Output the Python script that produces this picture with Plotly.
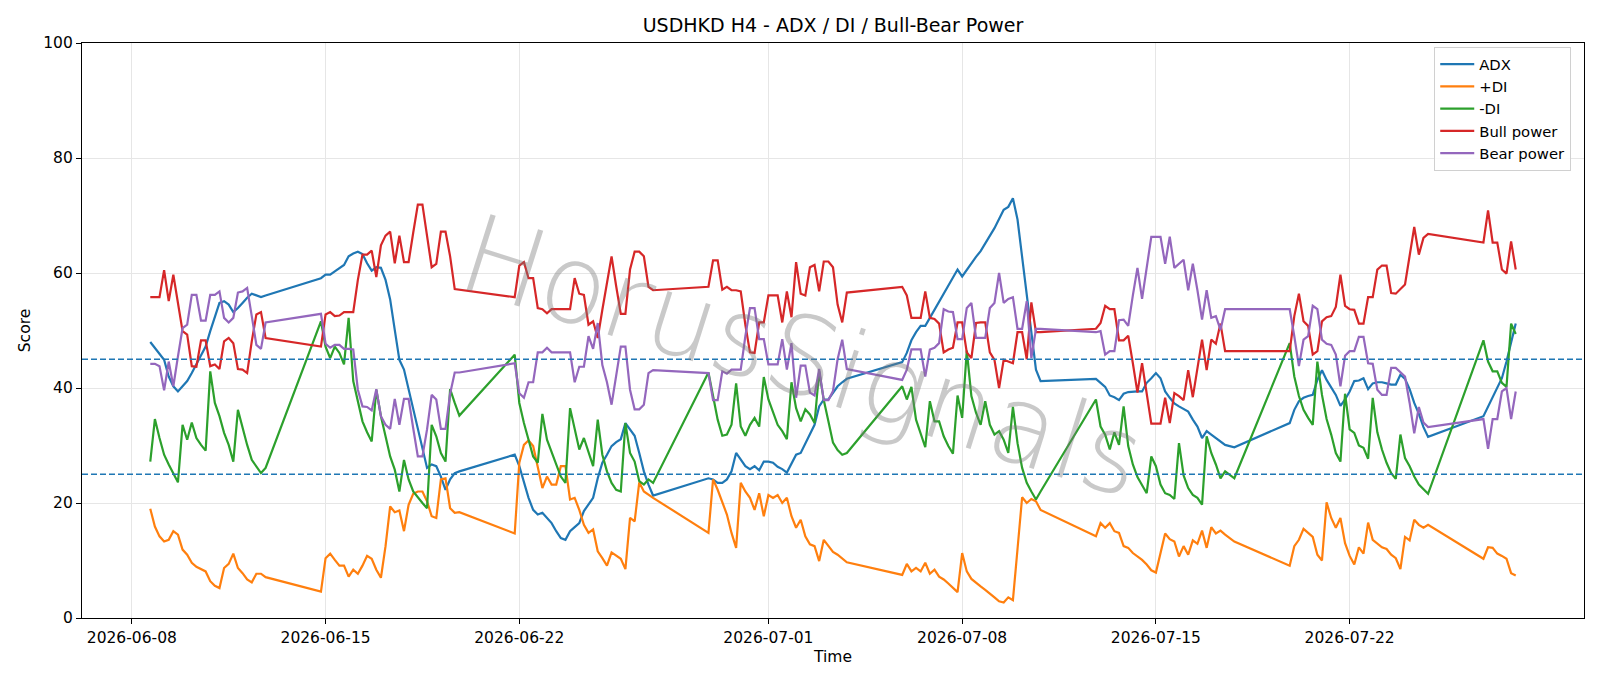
import pandas as pd
import plotly.graph_objects as go

# ---- time axis: 4-hour bars, grouped by trading week (weekend gaps) ----
session_starts = ["2026-06-08 16:00", "2026-06-14 20:00", "2026-06-21 20:00", "2026-06-28 20:00",
                  "2026-07-05 20:00", "2026-07-12 20:00", "2026-07-19 20:00", "2026-07-26 20:00"]
session_bars = [26, 31, 31, 31, 31, 31, 31, 8]

tick_dates = ["2026-06-08", "2026-06-15", "2026-06-22", "2026-07-01",
              "2026-07-08", "2026-07-15", "2026-07-22"]
y_ticks = [0, 20, 40, 60, 80, 100]
levels = [25, 45]

adx = [
    48.0, 47.0, 46.0, 44.9, 42.0, 40.3, 39.4, 40.3, 41.2, 42.6, 44.1, 45.5, 47.2, 49.9, 52.5, 54.8, 55.1, 54.5, 53.2, 53.9, 54.8, 55.7, 56.4, 56.1, 55.8, 56.1,
    59.1, 59.7, 59.7, 60.3, 60.9, 61.4, 62.9, 63.4, 63.7, 63.3, 61.7, 60.4, 61.0, 60.9, 58.8, 55.4, 50.1, 44.9, 43.2, 39.7, 36.2, 32.8, 29.3, 26.1, 26.7, 26.4, 24.6, 22.3, 24.1, 25.2, 25.5,
    28.4, 26.4, 23.8, 20.9, 18.8, 18.0, 18.3, 17.4, 16.5, 15.1, 13.9, 13.6, 15.1, 15.8, 16.5, 18.6, 19.7, 20.9, 24.3, 27.0, 28.4, 29.9, 30.6, 31.1, 33.9, 32.8, 31.7, 28.7, 25.5, 23.2, 21.3,
    24.3, 24.1, 23.5, 23.5, 24.1, 25.5, 28.7, 27.5, 26.4, 25.9, 26.4, 25.7, 27.2, 27.2, 27.0, 26.3, 25.9, 25.3, 27.0, 28.4, 28.7, 30.4, 31.9, 33.6, 36.8, 38.0, 38.0, 39.2, 40.3, 41.0, 41.6,
    44.5, 46.1, 48.3, 49.7, 50.8, 50.8, 52.2, 53.6, 55.1, 56.5, 58.0, 59.4, 60.6, 59.4, 60.6, 61.7, 62.8, 63.8, 65.1, 66.5, 67.8, 69.4, 71.0, 71.5, 73.0, 69.3, 62.9, 56.2, 49.6, 43.2, 41.2,
    41.6, 40.9, 40.2, 38.7, 38.4, 37.9, 39.0, 39.3, 39.4, 39.4, 39.4, 40.9, 41.7, 42.6, 41.7, 39.4, 38.3, 37.3, 36.8, 36.3, 35.9, 34.5, 33.3, 31.3, 32.5, 31.9, 31.3, 30.6, 30.1, 29.9, 29.7,
    33.9, 36.2, 37.7, 38.3, 38.6, 38.8, 41.4, 43.1, 41.4, 40.2, 38.8, 36.9, 38.0, 39.4, 41.2, 41.3, 41.7, 39.8, 40.8, 41.0, 41.0, 40.8, 40.6, 40.6, 42.3, 41.6, 39.8, 37.4, 35.5, 33.2, 31.5,
    35.1, 36.7, 38.4, 40.0, 41.7, 44.6, 48.1, 51.2,
]

plus_di = [
    19.0, 15.9, 14.2, 13.3, 13.6, 15.1, 14.5, 11.9, 11.0, 9.6, 8.9, 8.5, 8.1, 6.4, 5.6, 5.2, 8.7, 9.4, 11.2, 8.7, 7.8, 6.7, 6.2, 7.7, 7.7, 7.1,
    4.6, 10.4, 11.2, 10.1, 9.1, 9.1, 7.2, 8.4, 7.7, 9.1, 10.8, 10.3, 8.4, 7.0, 12.5, 19.4, 18.4, 18.7, 15.1, 19.7, 21.6, 22.0, 22.0, 20.3, 17.7, 17.4, 24.1, 24.3, 19.1, 18.3, 18.4,
    14.7, 27.0, 30.1, 30.9, 29.9, 26.1, 22.6, 24.6, 23.2, 23.2, 26.4, 26.4, 20.6, 20.9, 18.8, 16.2, 14.8, 15.4, 11.6, 10.4, 9.1, 11.4, 10.8, 10.3, 8.5, 17.4, 16.8, 23.6, 22.0, 21.4, 20.9,
    14.8, 24.1, 22.3, 20.3, 18.0, 14.8, 12.2, 23.5, 22.0, 20.9, 18.8, 21.7, 17.7, 21.4, 20.9, 21.4, 20.0, 20.9, 17.7, 15.7, 17.1, 14.2, 12.8, 12.5, 9.9, 13.6, 12.5, 11.5, 11.0, 10.4, 9.7,
    7.5, 9.4, 8.1, 8.7, 8.1, 9.6, 7.7, 8.4, 7.2, 6.7, 6.0, 5.2, 4.5, 11.3, 8.1, 6.8, 6.1, 5.5, 4.9, 4.3, 3.6, 2.9, 2.7, 3.6, 3.1, 12.0, 21.0, 20.0, 20.7, 20.3, 18.8,
    14.2, 16.5, 15.7, 16.5, 15.1, 14.8, 12.5, 12.2, 11.3, 10.7, 10.1, 9.3, 8.3, 7.9, 11.2, 14.7, 13.7, 13.3, 10.7, 12.5, 11.0, 13.5, 12.9, 15.2, 12.2, 15.8, 14.7, 15.2, 14.5, 13.9, 13.3,
    9.1, 12.5, 13.6, 15.5, 14.8, 14.1, 11.0, 10.0, 20.1, 17.4, 15.7, 17.4, 13.0, 10.8, 9.3, 12.3, 11.2, 16.6, 13.6, 12.9, 12.3, 12.0, 11.0, 10.4, 8.5, 14.1, 13.5, 17.1, 16.2, 15.7, 16.2,
    10.3, 12.3, 12.2, 11.2, 10.8, 10.3, 7.8, 7.4,
]

minus_di = [
    27.2, 34.6, 31.3, 28.4, 26.7, 25.2, 23.6, 33.6, 31.0, 34.0, 31.3, 30.1, 29.1, 42.9, 37.4, 35.1, 32.2, 30.1, 27.2, 36.2, 33.0, 30.1, 27.5, 26.4, 25.2, 26.1,
    51.6, 47.2, 45.2, 47.2, 46.1, 44.1, 52.2, 41.2, 37.4, 34.2, 32.3, 30.7, 39.7, 35.1, 31.6, 28.1, 25.8, 22.0, 27.5, 24.1, 22.0, 20.9, 20.0, 19.1, 33.6, 31.6, 28.7, 27.2, 39.8, 37.4, 35.2,
    45.8, 37.4, 33.9, 31.0, 28.1, 27.0, 35.5, 31.0, 28.7, 26.7, 24.6, 23.5, 36.5, 32.8, 29.3, 31.3, 28.7, 26.4, 34.5, 28.4, 25.5, 23.5, 22.3, 22.0, 33.9, 28.7, 27.2, 23.8, 23.2, 24.1, 23.5,
    42.7, 38.6, 34.5, 31.7, 31.9, 33.6, 40.8, 33.3, 31.7, 33.6, 34.8, 33.3, 41.9, 38.0, 35.7, 33.6, 32.5, 31.1, 41.0, 36.5, 34.2, 36.3, 35.4, 33.9, 42.9, 37.9, 34.2, 30.5, 29.2, 28.4, 28.7,
    40.3, 38.0, 40.2, 34.5, 32.2, 29.7, 37.7, 34.2, 34.2, 31.6, 29.9, 28.6, 38.7, 34.8, 46.5, 38.6, 35.7, 33.6, 37.7, 33.6, 31.9, 32.5, 31.0, 28.7, 36.7, 30.4, 26.1, 23.5, 22.0, 20.6, 22.0,
    38.0, 33.3, 31.9, 29.3, 32.3, 30.1, 36.8, 29.9, 26.7, 24.5, 23.2, 21.7, 28.1, 26.4, 23.2, 21.7, 21.4, 20.7, 30.4, 24.8, 22.6, 21.4, 20.9, 19.7, 31.6, 28.7, 26.7, 24.3, 25.5, 24.9, 24.3,
    47.8, 42.0, 38.6, 36.2, 34.8, 33.6, 44.6, 38.8, 34.6, 31.9, 28.7, 27.2, 39.0, 32.8, 32.2, 30.0, 29.6, 27.7, 38.3, 32.3, 29.3, 27.0, 25.2, 24.2, 31.9, 27.8, 26.4, 24.6, 23.2, 22.4, 21.6,
    48.3, 44.6, 42.9, 42.9, 40.9, 40.2, 51.2, 49.4,
]

bull_power = [
    55.8, 55.8, 55.8, 60.5, 55.1, 59.7, 54.8, 49.9, 49.3, 43.8, 43.7, 48.3, 48.3, 43.8, 44.1, 43.3, 48.1, 48.7, 47.8, 43.3, 43.2, 42.6, 48.1, 52.8, 53.2, 48.7,
    47.2, 52.8, 53.2, 52.5, 52.6, 53.2, 53.2, 53.2, 58.8, 63.2, 63.2, 63.9, 59.3, 64.8, 66.5, 67.2, 61.7, 66.5, 61.9, 61.9, 67.0, 71.9, 71.9, 66.4, 61.0, 61.6, 67.2, 67.2, 62.9, 57.2, 57.1,
    55.8, 61.3, 61.9, 59.1, 59.1, 53.9, 53.7, 53.0, 53.7, 53.7, 53.7, 53.7, 53.7, 59.1, 56.4, 56.2, 51.0, 51.6, 48.7, 53.6, 58.3, 62.9, 57.7, 52.9, 52.9, 60.6, 63.7, 63.7, 62.9, 57.6, 57.0,
    57.6, 62.2, 62.2, 57.1, 57.6, 57.0, 57.0, 56.8, 51.0, 46.2, 46.1, 51.4, 51.4, 56.1, 56.1, 56.1, 51.4, 56.8, 52.3, 61.9, 56.4, 56.1, 61.0, 61.4, 56.8, 62.0, 62.0, 61.0, 54.5, 51.4, 56.6,
    57.6, 56.1, 52.2, 52.2, 52.2, 56.8, 52.2, 52.0, 51.2, 46.2, 46.7, 47.0, 51.4, 51.4, 46.2, 45.2, 51.3, 51.4, 51.4, 46.2, 44.9, 40.0, 44.9, 44.6, 44.3, 49.7, 49.7, 45.0, 54.9, 49.7, 49.7,
    50.3, 51.3, 54.3, 53.7, 53.7, 48.3, 48.3, 49.1, 44.3, 39.2, 44.3, 39.1, 33.8, 33.8, 33.8, 38.3, 33.9, 39.1, 38.6, 37.9, 43.1, 38.4, 43.2, 48.4, 43.1, 48.4, 47.7, 51.2, 46.4, 46.4, 46.4,
    46.4, 52.5, 56.4, 51.6, 50.8, 45.8, 46.4, 51.6, 52.3, 52.5, 54.1, 59.7, 54.3, 53.7, 53.6, 51.2, 51.2, 55.8, 55.8, 60.6, 61.3, 61.3, 56.5, 56.4, 57.2, 58.0, 63.0, 68.0, 63.2, 66.1, 66.8,
    65.3, 70.9, 65.3, 65.3, 60.6, 59.9, 65.5, 60.6,
]

bear_power = [
    44.2, 44.2, 43.8, 39.6, 44.6, 40.3, 45.5, 50.4, 51.0, 56.2, 56.2, 51.7, 51.7, 56.2, 56.2, 56.8, 52.2, 51.4, 52.2, 56.6, 56.8, 57.4, 52.5, 47.5, 46.8, 51.4,
    52.9, 47.7, 47.0, 47.5, 47.5, 46.8, 46.8, 46.7, 39.7, 36.8, 36.7, 36.1, 39.8, 35.1, 33.6, 32.9, 38.1, 33.6, 38.1, 38.1, 33.0, 28.1, 28.1, 32.8, 38.8, 38.0, 32.9, 32.9, 39.0, 42.7, 42.7,
    44.3, 39.1, 38.3, 41.0, 41.0, 46.2, 46.2, 47.0, 46.2, 46.2, 46.2, 46.2, 46.2, 41.0, 43.7, 43.7, 49.0, 46.8, 51.3, 44.0, 41.0, 37.1, 42.0, 47.2, 47.2, 39.7, 36.3, 36.3, 37.1, 42.6, 43.1,
    42.6, 37.9, 37.9, 42.9, 42.5, 43.2, 43.2, 43.2, 49.0, 53.9, 53.9, 48.5, 48.5, 44.1, 44.1, 44.1, 48.5, 43.2, 47.8, 38.3, 43.9, 43.9, 39.2, 38.7, 43.3, 37.9, 37.9, 39.5, 45.0, 48.4, 43.3,
    41.4, 43.2, 46.7, 46.7, 46.7, 42.0, 46.7, 47.0, 47.8, 53.7, 53.3, 53.2, 48.5, 48.5, 53.9, 54.8, 48.7, 48.7, 48.7, 53.9, 54.8, 60.0, 54.8, 55.5, 55.8, 50.3, 50.3, 55.1, 45.2, 50.3, 50.3,
    49.7, 49.9, 45.8, 46.4, 46.4, 51.8, 51.9, 50.8, 56.1, 60.9, 55.5, 60.9, 66.3, 66.3, 66.3, 61.6, 66.3, 60.9, 61.6, 62.3, 57.0, 61.6, 57.0, 51.9, 57.0, 52.2, 52.5, 50.1, 53.7, 53.7, 53.7,
    53.7, 49.0, 43.8, 48.4, 49.0, 54.3, 53.7, 48.4, 47.7, 47.5, 45.8, 40.3, 45.6, 46.4, 46.4, 48.9, 48.9, 44.3, 44.2, 39.7, 38.8, 38.8, 43.5, 43.5, 42.7, 42.0, 37.4, 32.1, 36.7, 34.0, 33.2,
    34.6, 29.4, 34.6, 34.6, 39.4, 40.0, 34.6, 39.4,
]

# ---- build timestamps ----
times = []
for start, n in zip(session_starts, session_bars):
    times.extend(pd.date_range(start=start, periods=n, freq="4h"))
times = pd.DatetimeIndex(times)

span = times[-1] - times[0]
x_min = times[0] - 0.05 * span
x_max = times[-1] + 0.05 * span

FONT = "DejaVu Sans, Verdana, sans-serif"
series = [
    ("ADX", adx, "#1f77b4"),
    ("+DI", plus_di, "#ff7f0e"),
    ("-DI", minus_di, "#2ca02c"),
    ("Bull power", bull_power, "#d62728"),
    ("Bear power", bear_power, "#9467bd"),
]

fig = go.Figure()
for name, vals, color in series:
    fig.add_trace(go.Scatter(x=times, y=vals, mode="lines", name=name,
                             line=dict(color=color, width=2.2)))

for lv in levels:
    fig.add_shape(type="line", xref="paper", x0=0, x1=1, yref="y", y0=lv, y1=lv,
                  line=dict(color="#1f77b4", width=1.4, dash="6px,3px"), layer="above")

fig.add_annotation(text="HorusSignals", xref="paper", yref="paper", x=0.4795, y=0.455,
                   showarrow=False, textangle=17.5,
                   font=dict(family="DejaVu Sans", size=109, weight=200,
                             color="rgba(120,120,120,0.40)"))

fig.update_layout(
    width=1600, height=686,
    margin=dict(l=82, r=16, t=43, b=68),
    paper_bgcolor="white", plot_bgcolor="white",
    font=dict(family=FONT, size=15, color="black"),
    title=dict(text="USDHKD H4 - ADX / DI / Bull-Bear Power", x=0.5, xref="paper", xanchor="center",
               y=1 - 25.5 / 686, yanchor="middle", yref="container",
               font=dict(family=FONT, size=19, color="black")),
    legend=dict(x=0.9915, y=0.993, xanchor="right", yanchor="top",
                bgcolor="rgba(255,255,255,0.85)", bordercolor="#d0d0d0", borderwidth=1,
                font=dict(family=FONT, size=14.8), itemwidth=34, tracegroupgap=0),
    showlegend=True,
)
fig.update_xaxes(type="date", range=[x_min, x_max], tickmode="array",
                 tickvals=pd.to_datetime(tick_dates), ticktext=tick_dates,
                 ticks="outside", ticklen=5, tickwidth=1.2, tickcolor="black",
                 showline=True, linecolor="black", linewidth=1.3, mirror=True,
                 showgrid=True, gridcolor="#e6e6e6", gridwidth=1.2, zeroline=False,
                 title=dict(text="Time", font=dict(family=FONT, size=15.5), standoff=5),
                 tickfont=dict(family=FONT, size=15.5))
fig.update_yaxes(range=[0, 100], tickmode="array", tickvals=y_ticks,
                 ticks="outside", ticklen=5, tickwidth=1.2, tickcolor="black",
                 showline=True, linecolor="black", linewidth=1.3, mirror=True,
                 showgrid=True, gridcolor="#e6e6e6", gridwidth=1.2, zeroline=False,
                 title=dict(text="Score", font=dict(family=FONT, size=15.5), standoff=8),
                 tickfont=dict(family=FONT, size=15.5))

fig.write_html("out.html")
